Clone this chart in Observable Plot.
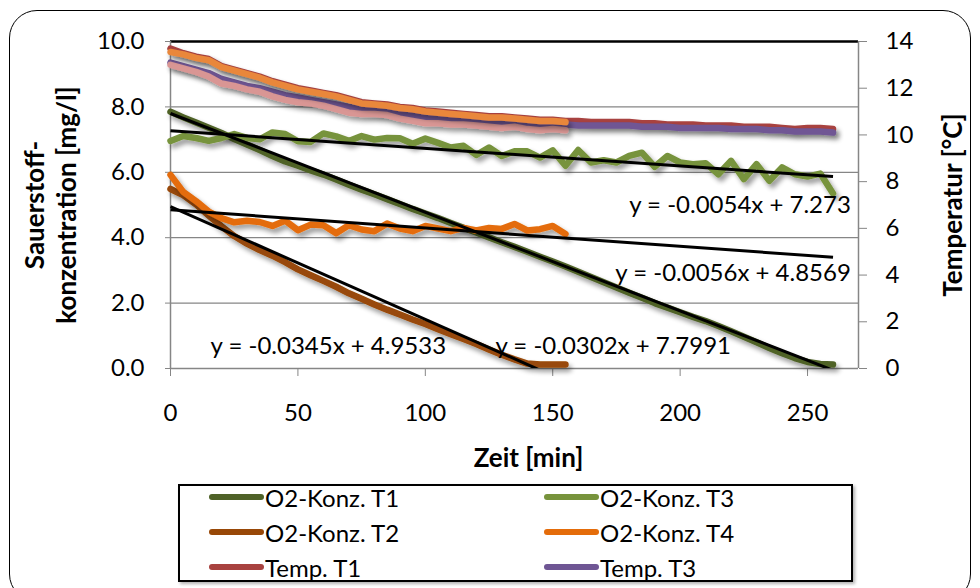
<!DOCTYPE html>
<html>
<head>
<meta charset="utf-8">
<script src="https://cdn.jsdelivr.net/npm/d3@7"></script>
<script src="https://cdn.jsdelivr.net/npm/@observablehq/plot@0.6"></script>
<style>
  body { margin: 0; background: #fff; }
  #wrap { position: relative; width: 980px; height: 588px; overflow: hidden; background: #fff; font-family: Lato, "Open Sans", sans-serif; }
  #frame { position: absolute; left: 9px; top: 10px; width: 962px; height: 592px; border: 1.5px solid #000; border-radius: 28px; box-sizing: border-box; }
  #chart { position: absolute; left: 0; top: 0; }
  #legend { position: absolute; left: 178px; top: 484px; width: 675px; height: 98px; border: 2px solid #000; box-sizing: border-box; background: #fff; box-shadow: 2px 2px 3px rgba(0,0,0,0.3); }
  .item { position: absolute; height: 30px; display: flex; align-items: center; font-size: 24px; color: #000; white-space: nowrap; }
  .sw { width: 55px; height: 6px; border-radius: 3px; margin-right: 1px; }
</style>
</head>
<body>
<div id="wrap">
  <div id="frame"></div>
  <div id="chart"></div>
  <div id="legend"></div>
</div>
<script>
// ---------- data ----------
const timeLong = [0,5,10,15,20,25,30,35,40,45,50,55,60,65,70,75,80,85,90,95,100,105,110,115,120,125,130,135,140,145,150,155,160,165,170,175,180,185,190,195,200,205,210,215,220,225,230,235,240,245,250,255,260];
const timeShort = [0,5,10,15,20,25,30,35,40,45,50,55,60,65,70,75,80,85,90,95,100,105,110,115,120,125,130,135,140,145,150,155];

// O2 concentration [mg/l]
const o2T1 = [7.85,7.68,7.52,7.36,7.2,7.02,6.85,6.68,6.5,6.33,
              6.2,6.06,5.93,5.78,5.62,5.47,5.33,5.18,5.03,4.88,
              4.74,4.6,4.45,4.3,4.16,4.01,3.86,3.72,3.57,3.42,
              3.27,3.12,2.96,2.8,2.64,2.48,2.32,2.16,2.0,1.86,
              1.72,1.58,1.45,1.3,1.14,0.97,0.8,0.63,0.47,0.32,
              0.2,0.14,0.12];
const o2T3 = [6.96,7.11,7.05,6.96,7.05,7.17,7.05,7.01,7.22,7.17,
              6.95,6.93,7.19,7.1,6.96,7.11,7.0,7.05,7.04,6.87,
              7.03,6.9,6.76,6.81,6.53,6.76,6.5,6.64,6.64,6.45,
              6.67,6.2,6.68,6.3,6.37,6.3,6.5,6.6,6.17,6.5,
              6.3,6.25,6.28,5.94,6.35,5.79,6.25,5.74,6.15,5.94,
              5.87,5.96,5.35];
const o2T2 = [5.49,5.3,5.02,4.68,4.35,4.05,3.82,3.62,3.45,3.25,
              3.03,2.85,2.68,2.5,2.3,2.13,1.96,1.8,1.65,1.5,
              1.36,1.2,1.05,0.9,0.75,0.58,0.42,0.28,0.15,0.12,
              0.12,0.12];
const o2T4 = [5.92,5.4,5.12,4.8,4.6,4.47,4.52,4.48,4.36,4.52,
              4.23,4.4,4.38,4.14,4.38,4.25,4.2,4.43,4.28,4.2,
              4.36,4.28,4.2,4.3,4.22,4.3,4.27,4.42,4.22,4.26,
              4.36,4.11];

// Temperature [°C]
const tempT1 = [13.7,13.5,13.35,13.25,12.95,12.8,12.65,12.5,12.3,12.15,
                12.0,11.9,11.8,11.7,11.55,11.4,11.35,11.3,11.2,11.15,
                11.05,11.0,10.95,10.9,10.85,10.8,10.8,10.75,10.7,10.65,
                10.65,10.6,10.6,10.55,10.55,10.55,10.55,10.5,10.5,10.45,
                10.45,10.45,10.4,10.4,10.4,10.35,10.35,10.35,10.3,10.25,
                10.3,10.3,10.25];
const tempT3 = [13.1,12.95,12.8,12.65,12.4,12.25,12.1,12.0,11.85,11.7,
                11.6,11.5,11.4,11.3,11.2,11.1,11.05,11.0,10.9,10.85,
                10.75,10.7,10.7,10.65,10.6,10.55,10.55,10.5,10.5,10.45,
                10.45,10.45,10.4,10.4,10.4,10.4,10.4,10.35,10.35,10.35,
                10.3,10.3,10.3,10.3,10.25,10.25,10.25,10.2,10.2,10.15,
                10.15,10.15,10.1];
const tempT2 = [13.0,12.85,12.7,12.5,12.2,12.1,11.95,11.85,11.65,11.5,
                11.4,11.35,11.25,11.1,10.95,10.9,10.9,10.85,10.7,10.6,
                10.5,10.5,10.45,10.45,10.4,10.35,10.3,10.35,10.25,10.2,
                10.25,10.2];
const tempT4 = [13.55,13.45,13.3,13.2,12.9,12.75,12.6,12.45,12.25,12.1,
                11.95,11.85,11.75,11.65,11.5,11.35,11.3,11.25,11.15,11.1,
                11.0,10.95,10.9,10.85,10.8,10.75,10.75,10.7,10.65,10.6,
                10.6,10.55];

// Linear trend lines (as printed in the chart)
const trendSlopes = [-0.0302, -0.0345, -0.0054, -0.0056];
const trendIntercepts = [7.7991, 4.9533, 7.273, 4.8569];
const trendEnds = [260, 155, 260, 260];
const trendLabels = ["y = -0.0302x + 7.7991", "y = -0.0345x + 4.9533", "y = -0.0054x + 7.273", "y = -0.0056x + 4.8569"];

// Axes
const xDomain = [0, 270];
const xTicks = [0, 50, 100, 150, 200, 250];
const o2Max = 10;
const o2Ticks = [0, 2, 4, 6, 8, 10];
const tempMax = 14;
const tempTicks = [0, 2, 4, 6, 8, 10, 12, 14];

const legendNames = ["O2-Konz. T1", "O2-Konz. T3", "O2-Konz. T2", "O2-Konz. T4", "Temp. T1", "Temp. T3"];

// ---------- build ----------
const toLeft = T => T * o2Max / tempMax;
const rows = (times, vals, conv = v => v) => times.map((t, i) => ({t, v: conv(vals[i])}));

const series = [
  {name: "O2-Konz. T1", data: rows(timeLong, o2T1), color: "#4F6228"},
  {name: "O2-Konz. T3", data: rows(timeLong, o2T3), color: "#77933C"},
  {name: "O2-Konz. T2", data: rows(timeShort, o2T2), color: "#984807"},
  {name: "O2-Konz. T4", data: rows(timeShort, o2T4), color: "#E46C0A"},
  {name: "Temp. T1", data: rows(timeLong, tempT1, toLeft), color: "#A8423F"},
  {name: "Temp. T3", data: rows(timeLong, tempT3, toLeft), color: "#6F5694"},
  {name: "Temp. T2", data: rows(timeShort, tempT2, toLeft), color: "#D99694"},
  {name: "Temp. T4", data: rows(timeShort, tempT4, toLeft), color: "#E9873A"}
];

const trends = trendSlopes.map((m, i) => ({
  x1: 0, y1: trendIntercepts[i], x2: trendEnds[i], y2: trendIntercepts[i] + m * trendEnds[i]
}));

const lineMarks = series.map(s => Plot.line(s.data, {
  x: "t", y: "v", stroke: s.color, strokeWidth: 6.5, strokeLinejoin: "round", strokeLinecap: "round"
}));

const axisGray = "#868686";

const chart = Plot.plot({
  width: 980,
  height: 475,
  marginLeft: 170,
  marginRight: 122,
  marginTop: 41,
  marginBottom: 107,
  x: {domain: xDomain},
  y: {domain: [0, o2Max]},
  style: {fontFamily: "Lato, 'Open Sans', sans-serif", fontSize: "24px", color: "#000", background: "transparent", overflow: "visible"},
  marks: [
    Plot.gridY({ticks: o2Ticks.filter(d => d > 0 && d < o2Max), stroke: axisGray, strokeOpacity: 1, strokeWidth: 1.2}),
    Plot.ruleY([o2Max], {stroke: "#000", strokeWidth: 2.5}),
    Plot.ruleY([0], {stroke: axisGray, strokeWidth: 1.5}),
    Plot.ruleX([xDomain[0]], {stroke: axisGray, strokeWidth: 1.5}),
    Plot.ruleX([xDomain[1]], {stroke: axisGray, strokeWidth: 1.5}),
    Plot.axisY({ticks: o2Ticks, tickFormat: d3.format(".1f"), tickSize: 5, tickPadding: 21, stroke: axisGray, label: null}),
    Plot.axisY({anchor: "right", ticks: tempTicks.map(toLeft), tickFormat: d => String(Math.round(d * tempMax / o2Max)), tickSize: 8, tickPadding: 19, stroke: axisGray, label: null}),
    Plot.axisX({ticks: xTicks, tickSize: 8, tickPadding: 27, stroke: axisGray, label: null}),
    ...lineMarks,
    Plot.link(trends, {x1: "x1", y1: "y1", x2: "x2", y2: "y2", stroke: "#000", strokeWidth: 3, clip: true}),
    Plot.text([trendLabels[0]], {x: 127.5, y: 0.69, text: d => d, textAnchor: "start", fontSize: 24}),
    Plot.text([trendLabels[1]], {x: 15.7, y: 0.69, text: d => d, textAnchor: "start", fontSize: 24}),
    Plot.text([trendLabels[2]], {x: 267, y: 4.98, text: d => d, textAnchor: "end", fontSize: 24}),
    Plot.text([trendLabels[3]], {x: 267, y: 2.9, text: d => d, textAnchor: "end", fontSize: 24}),
    Plot.text(["Sauerstoff-\nkonzentration [mg/l]"], {frameAnchor: "left", dx: -121, rotate: -90, text: d => d, textAnchor: "middle", fontWeight: "bold", fontSize: 26, lineHeight: 1.23, lineAnchor: "middle"}),
    Plot.text(["Temperatur [°C]"], {frameAnchor: "right", dx: 95, rotate: -90, text: d => d, textAnchor: "middle", fontWeight: "bold", fontSize: 26, lineAnchor: "middle"}),
    Plot.text(["Zeit [min]"], {frameAnchor: "bottom", dy: 90, dx: 14, text: d => d, textAnchor: "middle", fontWeight: "bold", fontSize: 26, lineAnchor: "middle"})
  ]
});

document.getElementById("chart").appendChild(chart);

// shadow effect on data lines
const svg = d3.select(chart);
const defs = svg.insert("defs", ":first-child");
const f = defs.append("filter").attr("id", "lineShadow").attr("filterUnits", "userSpaceOnUse")
  .attr("x", 0).attr("y", 0).attr("width", 980).attr("height", 475);
f.append("feGaussianBlur").attr("in", "SourceAlpha").attr("stdDeviation", 2.5).attr("result", "b");
f.append("feOffset").attr("in", "b").attr("dx", 3).attr("dy", 4).attr("result", "o");
f.append("feComponentTransfer").attr("in", "o").attr("result", "s")
  .append("feFuncA").attr("type", "linear").attr("slope", 0.4);
const mg = f.append("feMerge");
mg.append("feMergeNode").attr("in", "s");
mg.append("feMergeNode").attr("in", "SourceGraphic");
svg.selectAll('g[aria-label="line"]').attr("filter", "url(#lineShadow)");

// legend
const legend = document.getElementById("legend");
const colX = [29, 364];
const rowY = [-4, 31, 66];
legendNames.forEach((name, i) => {
  const s = series.find(d => d.name === name);
  const el = document.createElement("div");
  el.className = "item";
  el.style.left = colX[i % 2] + "px";
  el.style.top = rowY[Math.floor(i / 2)] + "px";
  el.innerHTML = `<div class="sw" style="background:${s.color}"></div><span>${name}</span>`;
  legend.appendChild(el);
});
</script>
</body>
</html>
